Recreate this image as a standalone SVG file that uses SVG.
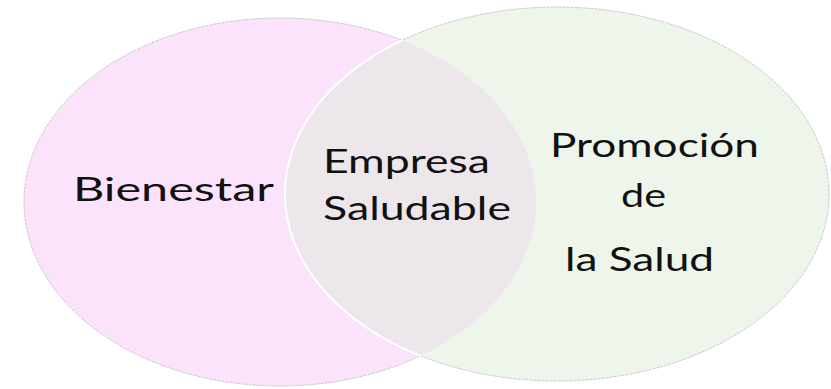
<svg xmlns="http://www.w3.org/2000/svg" width="831" height="389" viewBox="0 0 831 389">
<style>
.lbl{font-family:Lato,"Open Sans","Liberation Sans",sans-serif;font-size:33px;fill:#111;}
</style>
<defs>
<clipPath id="clipL"><ellipse cx="280" cy="202" rx="256" ry="184"/></clipPath>
</defs>
<g id="bienestar">
<ellipse cx="280" cy="202" rx="256" ry="184" fill="#FCE3FC" stroke="#BBBBBB" stroke-width="0.8" stroke-dasharray="3 1"/>
</g>
<g id="promocion">
<ellipse cx="557" cy="194" rx="272" ry="187" fill="#EEF5EA" stroke="#BBBBBB" stroke-width="0.8" stroke-dasharray="3 1"/>
</g>
<g id="empresa-saludable">
<ellipse cx="557" cy="194" rx="272" ry="187" fill="#EDE6EA" stroke="#FFFFFF" stroke-width="2" clip-path="url(#clipL)"/>
</g>
<g id="labels">
<text class="lbl" x="73" y="201" textLength="201" lengthAdjust="spacingAndGlyphs">Bienestar</text>
<text class="lbl" x="323" y="173" textLength="167" lengthAdjust="spacingAndGlyphs">Empresa</text>
<text class="lbl" x="323" y="220" textLength="188" lengthAdjust="spacingAndGlyphs">Saludable</text>
<text class="lbl" x="550" y="157" textLength="209" lengthAdjust="spacingAndGlyphs">Promoción</text>
<text class="lbl" x="621" y="207" textLength="45" lengthAdjust="spacingAndGlyphs">de</text>
<text class="lbl" x="565" y="271" textLength="149" lengthAdjust="spacingAndGlyphs">la Salud</text>
</g>
<g id="connectors"></g>
</svg>
